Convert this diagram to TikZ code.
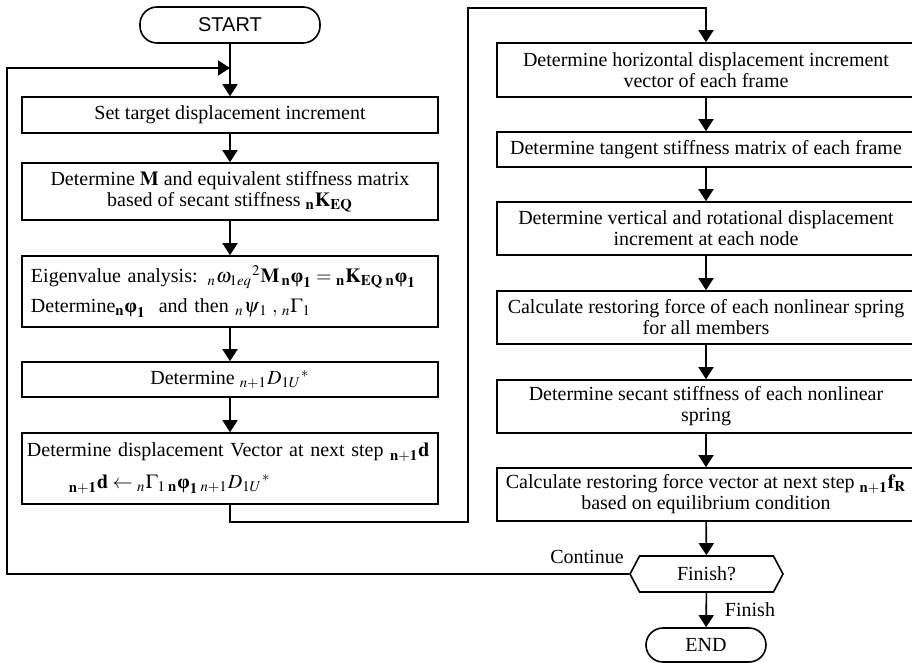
\documentclass[tikz,border=0pt]{standalone}
\usepackage{amsmath}
\usepackage{mathptmx}
\usepackage{fontspec}
\setmainfont{Liberation Serif}
\newfontfamily\arialfont{Liberation Sans}
\usepackage{tikz}
\usetikzlibrary{positioning, arrows.meta, shapes.symbols}
\newcommand{\bphi}{\text{\bfseries φ}}

\begin{document}
\begin{tikzpicture}[
  x=0.5pt, y=-0.5pt,
  line width=0.8pt,
  every node/.style={font=\fontsize{10}{10.5}\selectfont},
  box/.style={draw, minimum width=208pt, align=center, inner xsep=3pt},
  lbox/.style={draw, text width=205pt, align=left, inner xsep=1.5pt},
  rbox/.style={draw, minimum width=209pt, align=center, inner xsep=3pt},
  term/.style={draw, rounded corners=8.5pt},
  arr/.style={-{Triangle[length=6pt,width=7.5pt]}},
]
  \useasboundingbox (0,0) rectangle (912,663);

  % left column
  \node[term, minimum width=90pt, minimum height=18pt, font=\arialfont\fontsize{10}{10.5}\selectfont]
    (start) at (230,25) {START};
  \node[box, minimum height=18pt] (set) at (230,115) {Set target displacement increment};
  \node[box, minimum height=28.5pt] (eqv) at (230,191.5) {
    Determine $\mathbf{M}$ and equivalent stiffness matrix\\
    based of secant stiffness ${}_{\mathbf{n}}\mathbf{K}_{\mathbf{EQ}}$
  };
  \node[lbox, minimum height=35.5pt] (eig) at (230,291.5) {
    \hspace*{3pt}Eigenvalue analysis: ${}_{n}\omega_{1eq}{}^{2}\mathbf{M}\,{}_{\mathbf{n}}\bphi_{\mathbf{1}}
      = {}_{\mathbf{n}}\mathbf{K}_{\mathbf{EQ}}\,{}_{\mathbf{n}}\bphi_{\mathbf{1}}$\\[4.5pt]
    \hspace*{3pt}Determine${}_{\mathbf{n}}\bphi_{\mathbf{1}}$\ \ and then ${}_{n}\psi_{\,1}\;,\,{}_{n}\Gamma_{1}$
  };
  \node[box, minimum height=17.5pt] (dstar) at (230,379.5) {Determine ${}_{n+1}D_{1U}{}^{*}$};
  \node[lbox, minimum height=35.5pt] (disp) at (230,468.5) {
    \hspace*{1pt}Determine displacement Vector at next step ${}_{\mathbf{n+1}}\mathbf{d}$\\[5.5pt]
    \hspace*{22pt}${}_{\mathbf{n+1}}\mathbf{d}\leftarrow{}_{n}\Gamma_{1}\,{}_{\mathbf{n}}\bphi_{\mathbf{1}}\,{}_{n+1}D_{1U}{}^{*}$
  };

  % right column
  \node[rbox, minimum height=27pt] (hor) at (706,70) {
    Determine horizontal displacement increment\\ vector of each frame
  };
  \node[rbox, minimum height=17.5pt] (tan) at (706,149.5) {Determine tangent stiffness matrix of each frame};
  \node[rbox, minimum height=26.5pt] (vert) at (706,228.5) {
    Determine vertical and rotational displacement\\ increment at each node
  };
  \node[rbox, minimum height=26.5pt] (rest) at (706,317.5) {
    Calculate restoring force of each nonlinear spring\\ for all members
  };
  \node[rbox, minimum height=26.5pt] (sec) at (706,406.5) {
    Determine secant stiffness of each nonlinear\\ spring
  };
  \node[rbox, minimum height=26.5pt] (force) at (706,494.5) {
    Calculate restoring force vector at next step ${}_{\mathbf{n+1}}\mathbf{f}_{\mathbf{R}}$\\
    based on equilibrium condition
  };
  \node[draw, shape=signal, signal to=west and east, signal pointer angle=124,
        minimum width=76.5pt, minimum height=18pt, inner sep=0pt] (fin) at (706.5,574) {Finish?};
  \node[term, minimum width=60pt, minimum height=17pt] (stop) at (706,645) {END};
  \node (cont) at (587,557) {Continue};
  \node (done) at (750,610) {Finish};

  \coordinate (loopc) at (7,68);
  \coordinate (join) at (230,68);
  \coordinate (c1) at (468,522);
  \coordinate (c2) at (468,8);

  % arrows
  \draw[arr] (start) -- (set);
  \draw[arr] (set) -- (eqv);
  \draw[arr] (eqv) -- (eig);
  \draw[arr] (eig) -- (dstar);
  \draw[arr] (dstar) -- (disp);
  \draw[arr] (disp.south) |- (c1) -- (c2) -| (hor.north);
  \draw[arr] (hor) -- (tan);
  \draw[arr] (tan) -- (vert);
  \draw[arr] (vert) -- (rest);
  \draw[arr] (rest) -- (sec);
  \draw[arr] (sec) -- (force);
  \draw[arr] (force) -- (fin);
  \draw[arr] (fin) -- (stop);
  \draw[arr] (fin.west) -| (loopc) -- (join);
\end{tikzpicture}
\end{document}
